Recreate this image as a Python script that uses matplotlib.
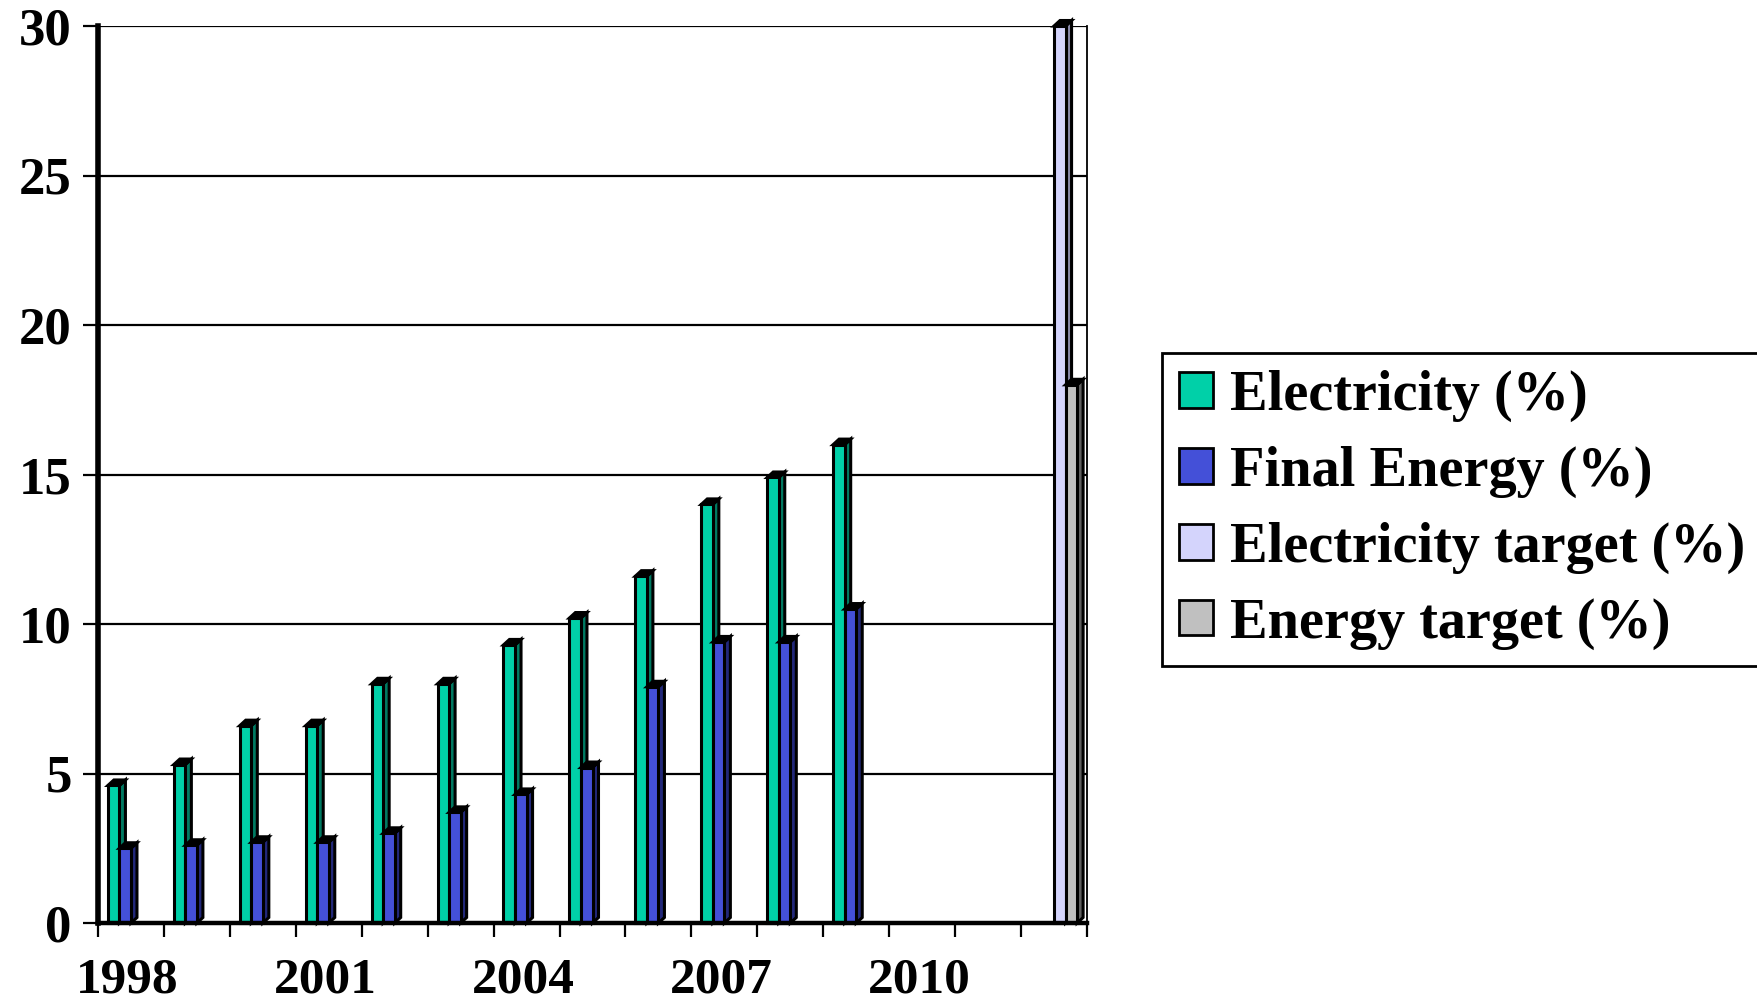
import numpy as np
import matplotlib
matplotlib.use("Agg")
import matplotlib.pyplot as plt
from matplotlib.patches import Polygon, Patch

# Renewable share (%) by year, with the targets shown in the final slot
years = [str(y) for y in range(1998, 2013)]
data_years = [str(y) for y in range(1998, 2010)]
electricity = [4.6, 5.3, 6.6, 6.6, 8.0, 8.0, 9.3, 10.2, 11.6, 14.0, 14.9, 16.0]
final_energy = [2.5, 2.6, 2.7, 2.7, 3.0, 3.7, 4.3, 5.2, 7.9, 9.4, 9.4, 10.5]
target_year = "2012"
electricity_target = 30.0
energy_target = 18.0

labels = ["Electricity (%)", "Final Energy (%)",
          "Electricity target (%)", "Energy target (%)"]
face_colors = ["#00D0A8", "#4450D8", "#D4D4FC", "#C0C0C0"]
side_colors = ["#007A62", "#22287A", "#8888A8", "#606060"]
y_ticks = [0, 5, 10, 15, 20, 25, 30]
shown_years = ["1998", "2001", "2004", "2007", "2010"]


def align(keys, values):
    out = np.full(len(years), np.nan)
    for k, v in zip(keys, values):
        out[years.index(k)] = v
    return out


series = [
    align(data_years, electricity),
    align(data_years, final_energy),
    align([target_year], [electricity_target]),
    align([target_year], [energy_target]),
]

plt.rcParams["font.family"] = ["Liberation Serif", "DejaVu Serif"]
plt.rcParams["font.weight"] = "bold"

W, H = 1757, 1008
fig = plt.figure(figsize=(W / 100, H / 100), dpi=100)
ax_l, ax_b, ax_w, ax_h = 98, 85, 989, 897
ax = fig.add_axes([ax_l / W, ax_b / H, ax_w / W, ax_h / H])

n = len(years)
x = np.arange(n)
ax.set_xlim(-0.5, n - 0.5)
ax.set_ylim(0, 30)

# pseudo-3D depth of each column, in data units
dx = 6.0 * (n / ax_w)
dy = 5.5 * (30 / ax_h)

bw = 0.175
elw = 2.2
for k, vals in enumerate(series):
    off = (k - 1.5) * bw
    mask = ~np.isnan(vals)
    xs = x[mask] + off
    hs = vals[mask]
    z = 3 + k
    ax.bar(xs, hs, width=bw, color=face_colors[k], edgecolor="black",
           linewidth=elw, zorder=z + 0.2, clip_on=False)
    for xc, h in zip(xs, hs):
        xl, xr = xc - bw / 2, xc + bw / 2
        top = Polygon([(xl, h), (xl + dx, h + dy), (xr + dx, h + dy), (xr, h)],
                      closed=True, facecolor="black", edgecolor="black",
                      linewidth=elw, zorder=z, clip_on=False)
        side = Polygon([(xr, 0), (xr, h), (xr + dx, h + dy), (xr + dx, dy)],
                       closed=True, facecolor=side_colors[k], edgecolor="black",
                       linewidth=elw, zorder=z, clip_on=False)
        ax.add_patch(side)
        ax.add_patch(top)

# gridlines
for t in y_ticks[1:]:
    ax.axhline(t, color="black", linewidth=1.6, zorder=1)

ax.spines["top"].set_visible(False)
ax.spines["left"].set_linewidth(4.0)
ax.spines["bottom"].set_linewidth(3.2)
ax.spines["right"].set_linewidth(1.3)
for s in ["left", "bottom"]:
    ax.spines[s].set_zorder(10)

ax.set_yticks(y_ticks)
ax.set_yticklabels([str(t) for t in y_ticks])
ax.tick_params(axis="y", direction="out", length=11, width=1.6, pad=8,
               labelsize=38)

# category boundaries carry tick marks; every third year is labelled
ax.set_xticks(np.arange(-0.5, n, 1.0))
ax.set_xticklabels([])
ax.tick_params(axis="x", which="major", direction="out", length=10, width=1.6)
ax.set_xticks([years.index(y) - 0.05 for y in shown_years], minor=True)
ax.set_xticklabels(shown_years, minor=True)
ax.tick_params(axis="x", which="minor", length=0, pad=25, labelsize=37)

handles = [Patch(facecolor=c, edgecolor="black", linewidth=2.0) for c in face_colors]
leg = fig.legend(handles, labels, loc="upper left",
                 bbox_to_anchor=(1162 / W, 1 - 353 / H),
                 bbox_transform=fig.transFigure, borderaxespad=0,
                 frameon=True, fancybox=False, edgecolor="black",
                 framealpha=1, fontsize=40.5, handlelength=0.6,
                 handleheight=0.6, handletextpad=0.3, labelspacing=0.42,
                 borderpad=0.3)
leg.get_frame().set_linewidth(2.0)

fig.savefig("out.png", dpi=100, facecolor="white")
